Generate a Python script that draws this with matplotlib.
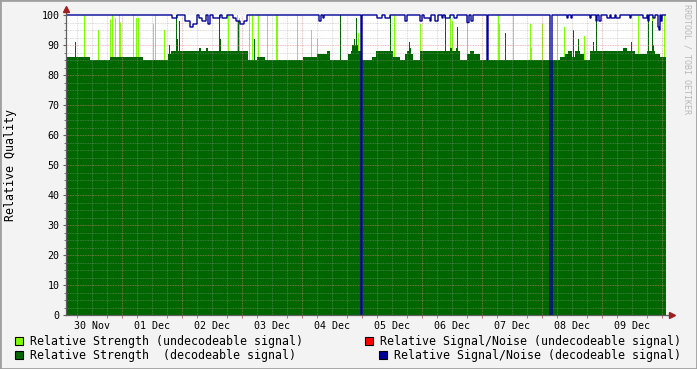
import numpy as np
import matplotlib
matplotlib.use("Agg")
import matplotlib.pyplot as plt
from matplotlib.patches import Rectangle

# ---------- data (time = hours since 30 Nov 00:00) ----------
t_start, t_end, step = 1.6, 241.6, 0.4

# decodeable signal strength: step levels (start hour, level)
dec_hours = [1.6, 11.2, 19.2, 32.4, 42.4, 43.6, 54.8, 55.6, 57.6, 58.4,
             74.4, 78.0, 81.2, 96.4, 102.0, 106.0, 107.2, 114.4, 115.6, 116.0,
             118.4, 119.6, 124.0, 125.6, 132.4, 135.2, 137.2, 138.0, 138.8, 139.6,
             140.4, 143.2, 155.2, 156.0, 157.6, 158.4, 159.2, 162.0, 163.2, 164.8,
             167.2, 199.2, 201.2, 202.4, 204.0, 205.2, 207.2, 208.8, 211.2, 224.4,
             226.0, 229.2, 234.0, 237.2, 239.2]
dec_levels = [86, 85, 86, 85, 87, 88, 89, 88, 89, 88,
              85, 86, 85, 86, 87, 88, 85, 87, 88, 90,
              88, 85, 86, 88, 86, 85, 87, 88, 89, 87,
              85, 88, 89, 88, 89, 88, 85, 87, 88, 87,
              85, 86, 87, 88, 86, 88, 87, 85, 88, 89,
              88, 87, 88, 87, 86]

# single-sample spikes
undec_spike_hours = [8.8, 14.4, 19.2, 20.0, 21.2, 22.8, 23.2, 28.4, 29.6, 30.4,
                     36.4, 37.2, 40.8, 66.4, 70.0, 70.8, 74.8, 76.0, 78.4, 82.0,
                     85.6, 86.0, 94.0, 99.6, 102.0, 118.4, 132.8, 143.2, 155.2, 156.0,
                     162.0, 174.4, 174.8, 180.4, 187.2, 187.6, 192.0, 198.0, 200.8, 208.8,
                     230.4, 236.0, 241.0]
undec_spike_vals = [100, 95, 98.5, 100, 99, 100, 97.5, 100, 99, 99,
                    97, 100, 95, 100, 100, 99, 100, 100, 100, 100,
                    100, 100, 100, 95, 92, 94, 100, 97, 100, 98,
                    100, 100, 97, 100, 97, 89, 97, 100, 96, 93,
                    100, 100, 100]
dec_spike_hours = [5.2, 42.8, 45.6, 46.0, 46.8, 62.8, 63.2, 70.4, 76.8, 111.2,
                   116.8, 117.6, 131.2, 138.8, 153.2, 158.0, 177.2, 204.4, 206.4, 212.4,
                   213.6, 227.6, 234.4, 236.0, 236.4]
dec_spike_vals = [91, 90, 100, 92, 98, 100, 92, 98, 92, 100,
                  92, 99, 100, 91, 100, 96, 94, 95, 92, 91,
                  98, 91, 100, 98, 90]

# decodeable signal/noise: dips below 100 (start, end, value)
snr_dip_start = [44.0, 49.2, 51.2, 52.4, 54.8, 56.0, 58.4, 60.4, 64.0, 68.4,
                 69.6, 71.2, 72.8, 102.8, 104.4, 119.6, 126.0, 129.2, 137.2, 143.2,
                 144.8, 147.2, 149.2, 152.0, 153.2, 156.8, 162.0, 163.6, 170.0, 195.2,
                 202.0, 203.6, 211.2, 213.6, 214.8, 218.0, 219.6, 221.6, 227.2, 232.4,
                 234.4, 236.4, 238.4, 238.8, 239.6]
snr_dip_end = [46.0, 51.2, 52.4, 54.0, 56.0, 57.6, 59.2, 63.2, 66.0, 69.6,
               71.2, 72.8, 74.0, 103.6, 104.8, 120.0, 128.0, 131.2, 138.0, 144.0,
               147.2, 147.6, 150.4, 152.4, 155.2, 158.0, 162.8, 164.4, 170.4, 196.0,
               202.4, 204.0, 211.6, 214.0, 215.6, 219.2, 221.2, 223.2, 227.6, 234.0,
               234.8, 237.2, 238.8, 239.2, 240.0]
snr_dip_vals = [99, 98, 96, 97, 99, 98, 97, 99, 99, 99,
                98, 97, 98, 98, 99, 0, 99, 99, 98, 98,
                99, 98, 98, 99, 99, 99, 97.5, 98, 85, 0,
                99, 99, 99, 98, 98, 99, 99, 99, 99, 99,
                98, 99, 96, 95, 98]

day_labels = ["30 Nov", "01 Dec", "02 Dec", "03 Dec", "04 Dec",
              "05 Dec", "06 Dec", "07 Dec", "08 Dec", "09 Dec"]

legend_labels = ["Relative Strength (undecodeable signal)",
                 "Relative Signal/Noise (undecodeable signal)",
                 "Relative Strength  (decodeable signal)",
                 "Relative Signal/Noise (decodeable signal)"]

# ---------- styles ----------
C_UNDEC = "#80ff00"
C_DEC = "#006600"
C_SNR_UNDEC = "#ff0000"
C_SNR = "#000099"
legend_colors = [C_UNDEC, C_SNR_UNDEC, C_DEC, C_SNR]
MONO = "DejaVu Sans Mono"
W, H = 697, 369

# ---------- series on the sample grid (one sample per pixel column) ----------
t = np.arange(t_start, t_end - 1e-9, step)
edges = np.append(t, t_end)
idx = np.searchsorted(dec_hours, t + 1e-6, side="right") - 1
dec = np.array(dec_levels, dtype=float)[idx]
for h, v in zip(dec_spike_hours, dec_spike_vals):
    k = int(round((h - t_start) / step))
    dec[k] = max(dec[k], v)

undec = np.zeros(len(t))
for h, v in zip(undec_spike_hours, undec_spike_vals):
    undec[int(round((h - t_start) / step))] = v

snr = np.full(len(t), 100.0)
for s, e, v in zip(snr_dip_start, snr_dip_end, snr_dip_vals):
    snr[(t >= s - 1e-6) & (t < e - 1e-6)] = v

fig = plt.figure(figsize=(W / 100, H / 100), dpi=100, facecolor="#f3f3f3")
ax = fig.add_axes([66 / W, 54 / H, 600 / W, 300 / H])
ax.set_facecolor("white")

ax.stairs(undec, edges, fill=True, baseline=0, color=C_UNDEC, lw=0, zorder=2)
ax.stairs(dec, edges, fill=True, baseline=0, color=C_DEC, lw=0, zorder=3)
ax.stairs(snr, edges, baseline=None, color=C_SNR, linewidth=1.0,
          zorder=6, clip_on=False)

ax.set_xlim(t_start, t_end)
ax.set_ylim(0, 100)

# ---------- grid (rrdtool style, on top of data) ----------
dot = (0, (1, 1))
for y in np.arange(2.5, 100, 2.5):
    if y % 10:
        ax.axhline(y, color="#a0a0a0", lw=0.6, ls=dot, alpha=0.5, zorder=4)
for y in range(10, 100, 10):
    ax.axhline(y, color="#e08080", lw=0.6, ls=dot, alpha=0.7, zorder=4)
for x in np.arange(6, t_end, 6):
    if x % 24:
        ax.axvline(x, color="#a0a0a0", lw=0.6, ls=dot, alpha=0.5, zorder=4)
for x in np.arange(24, t_end, 24):
    ax.axvline(x, color="#e08080", lw=0.6, ls=dot, alpha=0.7, zorder=4)

# ---------- axes ----------
for s in ["top", "right", "left", "bottom"]:
    ax.spines[s].set_visible(False)
axc = "#606060"
ax.plot([0, 0], [0, 1 + 6 / 300], transform=ax.transAxes, color=axc,
        lw=0.9, clip_on=False, zorder=7)
ax.plot([0, 1 + 4 / 600], [0, 0], transform=ax.transAxes, color=axc,
        lw=0.9, clip_on=False, zorder=7)
ax.plot([0], [1 + 6 / 300], marker="^", ms=4.5, color="#a02020",
        transform=ax.transAxes, clip_on=False, zorder=8)
ax.plot([1 + 6 / 600], [0], marker=">", ms=4.5, color="#a02020",
        transform=ax.transAxes, clip_on=False, zorder=8)

ax.set_yticks(range(0, 101, 10))
ax.set_yticks(np.arange(0, 100, 2.5), minor=True)
ax.set_xticks(np.arange(12, t_end, 24))
ax.set_xticklabels(day_labels)
ax.set_xticks(np.arange(6, t_end, 6), minor=True)
ax.tick_params(axis="y", which="major", length=2.5, width=0.8, color=axc,
               pad=2, labelsize=7.2)
ax.tick_params(axis="y", which="minor", length=1.5, width=0.6, color=axc)
ax.tick_params(axis="x", which="major", length=0, pad=4.5, labelsize=7.2)
ax.tick_params(axis="x", which="minor", length=2, width=0.6, color="#c06060")
for lab in ax.get_xticklabels() + ax.get_yticklabels():
    lab.set_family(MONO)

fig.text(11 / W, 1 - 165 / H, "Relative Quality", rotation=90,
         ha="center", va="center", family=MONO, fontsize=8.4)
fig.text(687 / W, 1 - 4 / H, "RRDTOOL / TOBI OETIKER", rotation=270,
         ha="center", va="top", family=MONO, fontsize=6, color="#b8b8b8")

# ---------- legend ----------
rows_y = [341, 355]
renderer = fig.canvas.get_renderer()
for i, (lab, col) in enumerate(zip(legend_labels, legend_colors)):
    yc = 1 - rows_y[i // 2] / H
    if i % 2 == 0:
        tx = fig.text(30 / W, yc, lab, ha="left", va="center",
                      family=MONO, fontsize=8.4)
        x0 = 15
    else:
        tx = fig.text(680.5 / W, yc, lab, ha="right", va="center",
                      family=MONO, fontsize=8.4)
        bb = tx.get_window_extent(renderer)
        x0 = bb.x0 - 15
    fig.patches.append(Rectangle((x0 / W, yc - 4 / H), 8 / W, 8 / H,
                                 transform=fig.transFigure, facecolor=col,
                                 edgecolor="black", lw=0.8))

# ---------- frame ----------
fig.patches.append(Rectangle((0, 0), 1, 1, transform=fig.transFigure,
                             fill=False, edgecolor="#a0a0a0", lw=2))

fig.savefig("out.png", dpi=100, facecolor=fig.get_facecolor())
